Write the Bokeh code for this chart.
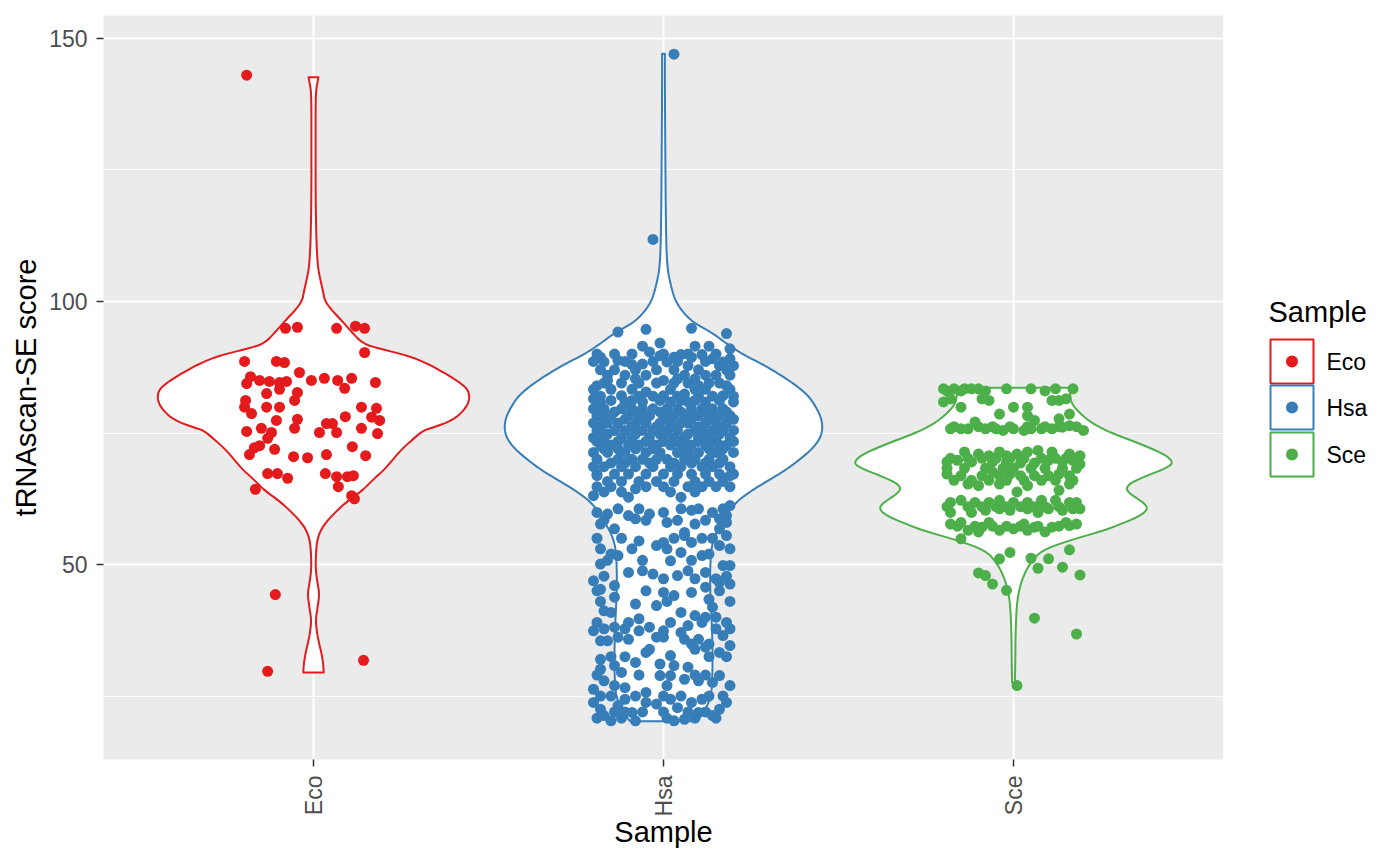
import math
from bokeh.plotting import figure
from bokeh.layouts import row
from bokeh.models import Range1d, FixedTicker
from bokeh.core.properties import value
from bokeh.embed import file_html
from bokeh.resources import INLINE

FONT = "Liberation Sans"
samples = ["Eco", "Hsa", "Sce"]
colors = ["#E41A1C", "#377EB8", "#4DAF4A"]
y_ticks = [50, 100, 150]
y_minor = [25, 75, 125]

# violin outlines: (score, half width in category units), top to bottom
eco_violin = [(142.6, 0.014), (141.8, 0.012), (140.5, 0.008), (138, 0.006), (130, 0.006), (120, 0.006),
              (112, 0.008), (108, 0.011), (106, 0.014), (104, 0.02), (102, 0.027), (100.2, 0.032),
              (98.5, 0.05), (96.4, 0.08), (94.5, 0.105), (92.0, 0.14), (91.0, 0.19), (89.7, 0.27),
              (88.2, 0.326), (86.0, 0.385), (84.5, 0.42), (83.1, 0.443), (81.2, 0.446), (79.3, 0.43),
              (77.4, 0.397), (76.0, 0.34), (75.5, 0.314), (73.6, 0.28), (71.7, 0.249), (69.8, 0.225),
              (67.9, 0.2), (66.0, 0.168), (64.1, 0.14), (62.2, 0.1), (60.3, 0.068), (58.4, 0.04),
              (56.5, 0.02), (54.5, 0.01), (52.0, 0.007), (49.4, 0.006), (47.0, 0.01), (44.5, 0.017),
              (42.0, 0.012), (39.4, 0.006), (37.0, 0.01), (35.0, 0.016), (33.1, 0.023), (31.0, 0.028),
              (29.5, 0.029)]
hsa_violin = [(147.1, 0.004), (140, 0.004), (130, 0.005), (120, 0.006), (110, 0.008), (106, 0.012),
              (104, 0.018), (102, 0.025), (100, 0.035), (98, 0.055), (96, 0.085), (94, 0.14),
              (92, 0.18), (90, 0.225), (88, 0.285), (86, 0.335), (84, 0.38), (82, 0.415), (80, 0.435),
              (78, 0.45), (76, 0.455), (74, 0.448), (72, 0.425), (70, 0.39), (68, 0.35), (66, 0.3),
              (64, 0.25), (62, 0.21), (60, 0.185), (58, 0.168), (56, 0.15), (54, 0.14), (52, 0.135),
              (48, 0.133), (44, 0.134), (40, 0.137), (35, 0.14), (30, 0.14), (26, 0.138), (24, 0.13),
              (22.5, 0.12), (21, 0.105), (20.2, 0.095)]
sce_violin = [(83.6, 0.16), (82.0, 0.162), (80.6, 0.166), (78.7, 0.19), (76.8, 0.226), (74.9, 0.283),
              (73.0, 0.36), (71.1, 0.426), (70.2, 0.446), (69.2, 0.455), (68.3, 0.435), (67.3, 0.397),
              (66.3, 0.36), (65.4, 0.333), (64.5, 0.322), (63.6, 0.33), (62.7, 0.35), (61.7, 0.372),
              (60.8, 0.383), (59.9, 0.375), (58.9, 0.35), (57.8, 0.31), (56.5, 0.26), (54.6, 0.16),
              (52.7, 0.08), (50.2, 0.046), (47.0, 0.023), (43.2, 0.01), (37.5, 0.006), (30.8, 0.005),
              (27.6, 0.004)]

# jittered points: (score, horizontal jitter in category units)
eco_points = [(94.9, -0.08), (95.1, -0.046), (94.9, 0.066), (95.3, 0.12), (94.9, 0.146), (90.3, 0.146),
              (88.6, -0.197), (88.6, -0.106), (88.4, -0.083), (86.5, -0.04), (85.7, -0.18), (84.4, -0.191),
              (85.0, -0.154), (84.8, -0.126), (84.6, -0.097), (84.8, -0.077), (85.0, -0.006), (85.4, 0.031),
              (85.0, 0.069), (85.4, 0.109), (83.5, 0.089), (84.6, 0.177), (83.3, -0.097), (82.5, -0.134),
              (82.7, -0.046), (81.2, -0.054), (81.2, -0.194), (79.9, -0.197), (78.7, -0.177), (79.9, -0.134),
              (79.9, -0.097), (77.4, -0.106), (77.6, -0.046), (75.9, -0.054), (75.3, -0.191), (75.9, -0.149),
              (75.1, -0.12), (74.0, -0.131), (72.6, -0.154), (72.2, -0.169), (70.9, -0.183), (71.9, -0.111),
              (70.5, -0.057), (70.3, -0.017), (70.9, 0.037), (75.1, 0.017), (76.8, 0.037), (76.8, 0.054),
              (75.1, 0.066), (78.1, 0.091), (79.9, 0.137), (79.7, 0.18), (78.0, 0.166), (77.4, 0.189),
              (75.9, 0.137), (74.9, 0.183), (72.4, 0.111), (70.7, 0.149), (67.3, -0.131), (67.3, -0.103),
              (66.4, -0.074), (67.3, 0.034), (66.7, 0.066), (66.7, 0.097), (66.9, 0.114), (64.8, 0.071),
              (64.3, -0.166), (63.1, 0.109), (62.5, 0.117), (143.0, -0.191), (44.3, -0.109), (29.7, -0.131),
              (31.8, 0.143)]

hsa_points = [(147.0, 0.03), (111.8, -0.03),
              (94.2, -0.13), (94.7, -0.05), (94.9, 0.08), (93.9, 0.18), (92.1, -0.01), (91.0, 0.19),
              (89.1, 0.19), (89.4, -0.18), (89.4, 0.03), (89.4, 0.08), (88.8, -0.13), (88.0, -0.09),
              (90.4, -0.04), (89.7, -0.01), (89.9, 0.05), (89.9, 0.11), (89.1, 0.14), (88.5, 0.17),
              (88.5, -0.17), (87.8, 0.20), (87.8, 0.07), (87.8, 0.16), (88.1, -0.06), (88.5, 0.01),
              (85.3, -0.08), (85.3, 0.04), (85.3, 0.09), (85.0, -0.16), (85.0, 0.00), (84.0, -0.19),
              (84.0, 0.10), (84.0, 0.18), (82.8, -0.05), (82.1, -0.12), (82.1, 0.00), (82.1, 0.17),
              (82.4, 0.06), (81.5, -0.20), (80.9, 0.20), (80.9, -0.18), (80.9, -0.11), (80.9, -0.06),
              (80.9, 0.02), (80.9, 0.07), (80.9, 0.12),
              (91.5, -0.06), (91.5, 0.09), (91.5, 0.13),
              (90.0, -0.19), (90.0, -0.14), (90.0, -0.09), (90.0, 0.00), (90.0, 0.07), (90.0, 0.15),
              (88.6, -0.20), (88.6, -0.11), (88.6, -0.03), (88.6, 0.04), (88.6, 0.12),
              (87.0, -0.18), (87.0, -0.14), (87.0, -0.08), (87.0, -0.02), (87.0, 0.03), (87.0, 0.10), (87.0, 0.18),
              (86.0, -0.16), (86.0, -0.11), (86.0, -0.05), (86.0, 0.06), (86.0, 0.12), (86.0, 0.15), (86.0, 0.19),
              (84.5, -0.17), (84.5, -0.12), (84.5, -0.07), (84.5, -0.02), (84.5, 0.03), (84.5, 0.07),
              (84.5, 0.13), (84.5, 0.16),
              (83.3, -0.20), (83.3, -0.15), (83.3, -0.09), (83.3, 0.02), (83.3, 0.09), (83.3, 0.12), (83.3, 0.19),
              (82.0, -0.18), (82.0, -0.07), (82.0, -0.03), (82.0, 0.04), (82.0, 0.10), (82.0, 0.14), (82.0, 0.20),
              (81.2, -0.15), (81.2, -0.09), (81.2, -0.01), (81.2, 0.05), (81.2, 0.09), (81.2, 0.16),
              (79.6, -0.20), (79.6, -0.17), (79.6, -0.12), (79.6, -0.09), (79.6, -0.06), (79.6, -0.03),
              (79.6, 0.01), (79.6, 0.04), (79.6, 0.08), (79.6, 0.11), (79.6, 0.14), (79.6, 0.17),
              (79.0, -0.18), (79.0, -0.14), (79.0, -0.07), (79.0, -0.01), (79.0, 0.05), (79.0, 0.12), (79.0, 0.18),
              (78.3, -0.19), (78.3, -0.15), (78.3, -0.10), (78.3, -0.07), (78.3, -0.04), (78.3, 0.00),
              (78.3, 0.03), (78.3, 0.06), (78.3, 0.10), (78.3, 0.13), (78.3, 0.16), (78.3, 0.19),
              (77.6, -0.17), (77.6, -0.11), (77.6, -0.06), (77.6, 0.01), (77.6, 0.08), (77.6, 0.14), (77.6, 0.20),
              (76.9, -0.20), (76.9, -0.16), (76.9, -0.13), (76.9, -0.08), (76.9, -0.05), (76.9, -0.01),
              (76.9, 0.02), (76.9, 0.05), (76.9, 0.07), (76.9, 0.12), (76.9, 0.15), (76.9, 0.18),
              (76.2, -0.18), (76.2, -0.09), (76.2, -0.02), (76.2, 0.03), (76.2, 0.10), (76.2, 0.16),
              (75.5, -0.19), (75.5, -0.14), (75.5, -0.11), (75.5, -0.06), (75.5, -0.03), (75.5, 0.01),
              (75.5, 0.04), (75.5, 0.09), (75.5, 0.11), (75.5, 0.14), (75.5, 0.17), (75.5, 0.20),
              (74.8, -0.16), (74.8, -0.08), (74.8, -0.01), (74.8, 0.07), (74.8, 0.12), (74.8, 0.16),
              (74.1, -0.20), (74.1, -0.17), (74.1, -0.12), (74.1, -0.09), (74.1, -0.04), (74.1, 0.00),
              (74.1, 0.03), (74.1, 0.06), (74.1, 0.10), (74.1, 0.13), (74.1, 0.19),
              (73.4, -0.19), (73.4, -0.13), (73.4, -0.05), (73.4, 0.00), (73.4, 0.04), (73.4, 0.10),
              (73.4, 0.15), (73.4, 0.20),
              (72.7, -0.18), (72.7, -0.15), (72.7, -0.10), (72.7, -0.07), (72.7, -0.02), (72.7, 0.02),
              (72.7, 0.05), (72.7, 0.08), (72.7, 0.12), (72.7, 0.16), (72.7, 0.18),
              (72.0, -0.17), (72.0, -0.13), (72.0, -0.08), (72.0, -0.03), (72.0, 0.06), (72.0, 0.13), (72.0, 0.17),
              (71.3, -0.20), (71.3, -0.16), (71.3, -0.11), (71.3, -0.05), (71.3, -0.01), (71.3, 0.04),
              (71.3, 0.07), (71.3, 0.10), (71.3, 0.15), (71.3, 0.20),
              (70.0, -0.19), (70.0, -0.13), (70.0, -0.09), (70.0, -0.06), (70.0, -0.02), (70.0, 0.01),
              (70.0, 0.06), (70.0, 0.09), (70.0, 0.13), (70.0, 0.17),
              (69.3, -0.15), (69.3, -0.11), (69.3, -0.04), (69.3, 0.03), (69.3, 0.08), (69.3, 0.12), (69.3, 0.16),
              (68.6, -0.20), (68.6, -0.17), (68.6, -0.12), (68.6, -0.08), (68.6, -0.03), (68.6, 0.02),
              (68.6, 0.05), (68.6, 0.11), (68.6, 0.14), (68.6, 0.19),
              (67.2, -0.19), (67.2, -0.14), (67.2, -0.10), (67.2, -0.05), (67.2, 0.00), (67.2, 0.04),
              (67.2, 0.08), (67.2, 0.12), (67.2, 0.16), (67.2, 0.20),
              (65.8, -0.16), (65.8, -0.12), (65.8, -0.07), (65.8, -0.02), (65.8, 0.03), (65.8, 0.09),
              (65.8, 0.13), (65.8, 0.17),
              (64.8, -0.19), (64.8, -0.15), (64.8, -0.05), (64.8, 0.00), (64.8, 0.07), (64.8, 0.11),
              (64.8, 0.15), (64.8, 0.19), (63.8, -0.17), (63.8, -0.12), (63.8, 0.02), (63.8, 0.09),
              (66.9, -0.19), (63.1, -0.20), (64.4, -0.08), (62.8, -0.10), (62.8, 0.05), (66.9, 0.19),
              (66.3, 0.17), (59.9, -0.19), (59.6, -0.16), (60.6, -0.13), (59.3, -0.10), (60.6, -0.07),
              (59.6, -0.04), (59.9, 0.00), (60.6, 0.05), (60.3, 0.08), (60.6, 0.10), (59.9, 0.14),
              (60.6, 0.17), (61.2, 0.19), (58.7, 0.16), (59.3, 0.18), (57.7, -0.18), (56.8, -0.14),
              (58.7, -0.08), (58.0, 0.01), (56.1, 0.06), (57.7, 0.09), (56.8, 0.16), (58.0, 0.18),
              (58.4, -0.17), (58.4, -0.05), (58.4, 0.04), (58.4, 0.12),
              (54.5, -0.07), (53.6, -0.02), (54.2, 0.00), (55.5, 0.06), (54.2, 0.08), (53.6, 0.16),
              (55.5, 0.18), (55.0, -0.19), (55.0, -0.12), (55.0, 0.03), (55.0, 0.11), (55.0, 0.14),
              (53.0, -0.18), (53.0, -0.09), (53.0, 0.01), (53.0, 0.19),
              (52.0, -0.15), (51.7, -0.13), (50.7, 0.02), (52.3, 0.05), (51.7, 0.11),
              (52.0, 0.13), (50.1, -0.18), (49.8, 0.17), (49.8, 0.19), (50.8, -0.16), (50.8, -0.06), (50.8, 0.08),
              (46.9, -0.20), (45.3, -0.18),
              (46.0, -0.14), (48.5, -0.10), (48.8, -0.06), (48.2, -0.03), (47.3, 0.00), (47.9, 0.04),
              (48.8, 0.07), (47.3, 0.09), (48.5, 0.12), (47.3, 0.15), (46.6, 0.16), (46.3, 0.19),
              (47.8, -0.17), (47.8, 0.18), (45.0, -0.19), (45.0, -0.05), (45.0, 0.16),
              (44.7, 0.00), (44.1, 0.03), (44.7, 0.08), (45.7, 0.12), (43.8, -0.14), (42.5, -0.08),
              (42.2, -0.02), (40.9, 0.05), (43.4, 0.13), (41.9, 0.14), (41.2, -0.17), (40.9, -0.15),
              (43.0, -0.18), (43.0, 0.01), (43.0, 0.19),
              (39.7, -0.07), (40.3, 0.09), (40.0, 0.12), (40.0, 0.15), (37.4, -0.20), (37.8, -0.17),
              (39.0, -0.19), (39.0, -0.10), (39.0, 0.02), (39.0, 0.11), (39.0, 0.18),
              (38.1, -0.14), (37.8, -0.11), (37.4, -0.07), (38.1, -0.04), (37.4, 0.00), (37.1, 0.05),
              (38.4, 0.07), (37.8, 0.15), (37.8, 0.19), (35.5, -0.18), (35.5, -0.16), (36.2, -0.13),
              (36.2, -0.02), (36.2, 0.00), (34.9, 0.08), (34.9, 0.13), (36.5, 0.17), (34.6, 0.19),
              (35.8, -0.10), (35.8, 0.06), (35.8, 0.10),
              (32.0, -0.18), (30.1, -0.18), (30.8, -0.14), (29.5, -0.12), (31.4, -0.08), (33.3, -0.05),
              (33.9, -0.04), (31.1, -0.01), (32.7, 0.02), (30.8, 0.03), (30.5, 0.07), (33.9, 0.09),
              (34.3, 0.12), (33.3, 0.16), (32.5, -0.15), (32.5, -0.11), (32.5, 0.13), (32.5, 0.18),
              (29.0, -0.19), (29.0, -0.07), (29.0, 0.09), (29.0, 0.12),
              (27.9, -0.17), (26.3, -0.20), (27.0, -0.14), (26.6, -0.11),
              (25.7, -0.05), (28.9, -0.01), (27.0, 0.01), (28.9, 0.02), (28.2, 0.06), (27.9, 0.10),
              (27.6, 0.14), (28.9, 0.16), (27.0, 0.19),
              (25.0, -0.18), (25.0, -0.15), (25.0, -0.08), (25.0, 0.00), (25.0, 0.05), (25.0, 0.13), (25.0, 0.17),
              (23.8, -0.20), (22.5, -0.18), (21.3, -0.17),
              (23.2, -0.13), (24.4, -0.11), (21.9, -0.09), (23.8, -0.05), (23.5, -0.02), (24.4, 0.02),
              (22.8, 0.04), (23.8, 0.08), (24.4, 0.11), (21.3, 0.14), (22.5, 0.16), (23.8, 0.18),
              (22.0, -0.14), (22.0, -0.11), (22.0, -0.06), (22.0, 0.00), (22.0, 0.07), (22.0, 0.12),
              (20.8, -0.19), (20.8, -0.12), (20.8, 0.01), (20.8, 0.09), (20.8, 0.15),
              (20.3, -0.15), (20.3, -0.08), (20.3, 0.03), (20.6, 0.06), (21.9, 0.10)]

sce_points = [(83.4, -0.20), (83.4, -0.17), (83.4, -0.14), (83.4, -0.12), (83.4, -0.10), (83.4, -0.02),
              (83.4, 0.05), (83.4, 0.12), (83.4, 0.17), (83.0, -0.19), (83.0, -0.15), (83.0, -0.08), (83.0, 0.09),
              (80.9, -0.20), (81.5, -0.18), (79.9, -0.15),
              (81.5, -0.09), (81.2, -0.07), (79.9, 0.00), (79.9, 0.04), (78.3, 0.04), (81.2, 0.11),
              (81.2, 0.13), (81.5, 0.15), (78.6, -0.04), (77.4, 0.06), (77.7, 0.13), (78.6, 0.16),
              (75.8, -0.18), (75.8, -0.15), (77.1, -0.11), (75.8, -0.13), (75.8, -0.08), (75.8, -0.05),
              (75.5, -0.03), (75.8, 0.00), (75.5, 0.03), (75.8, 0.05), (75.8, 0.08), (75.8, 0.11),
              (76.1, 0.14), (76.4, 0.16), (75.5, 0.20),
              (76.2, -0.17), (76.2, -0.10), (76.2, -0.06), (76.2, -0.01), (76.2, 0.04), (76.2, 0.09),
              (76.2, 0.13), (76.2, 0.18),
              (69.5, -0.19), (71.4, -0.14), (71.0, -0.10), (70.7, -0.07), (71.4, -0.04), (70.7, -0.02),
              (71.0, 0.01), (71.4, 0.04), (71.7, 0.07), (71.4, 0.11), (71.0, 0.16), (70.7, 0.19),
              (70.2, -0.18), (70.2, -0.13), (70.2, -0.09), (70.2, -0.05), (70.2, -0.01), (70.2, 0.03),
              (70.2, 0.08), (70.2, 0.12), (70.2, 0.15), (70.2, 0.18),
              (69.8, -0.16), (69.5, -0.12), (69.5, -0.06), (69.5, -0.02), (69.3, 0.02), (69.3, 0.06),
              (69.8, 0.10), (69.5, 0.14), (69.8, 0.17), (69.1, 0.19),
              (68.3, -0.19), (68.3, -0.14), (68.3, -0.08), (68.3, -0.03), (68.3, 0.00), (68.3, 0.05),
              (68.3, 0.09), (68.3, 0.14), (68.3, 0.18),
              (67.2, -0.19), (66.9, -0.15), (65.3, -0.13), (66.9, -0.09), (67.6, -0.06), (66.9, -0.04),
              (67.2, -0.01), (66.9, 0.02), (66.9, 0.06), (66.9, 0.10), (67.2, 0.13), (66.9, 0.16),
              (66.0, -0.17), (66.0, -0.12), (66.0, -0.07), (66.0, -0.02), (66.0, 0.03), (66.0, 0.08),
              (66.0, 0.12), (66.0, 0.17),
              (65.3, -0.04), (65.0, 0.04), (65.3, 0.16), (65.0, -0.10), (63.8, 0.01), (64.1, 0.13),
              (61.8, -0.18), (62.2, -0.15), (61.8, -0.11), (61.8, -0.07), (62.2, -0.04), (61.8, 0.00),
              (61.8, 0.04), (62.2, 0.08), (62.2, 0.12), (61.8, 0.16), (61.8, 0.18),
              (61.0, -0.19), (61.0, -0.13), (61.0, -0.09), (61.0, -0.05), (61.0, -0.02), (61.0, 0.02),
              (61.0, 0.06), (61.0, 0.09), (61.0, 0.13), (61.0, 0.17),
              (59.9, -0.18), (59.9, -0.12), (60.3, -0.08), (60.6, -0.04), (60.3, -0.01), (60.6, 0.04),
              (59.9, 0.07), (60.6, 0.10), (60.3, 0.14), (60.6, 0.17), (60.6, 0.19),
              (57.7, -0.18), (58.0, -0.15), (56.5, -0.13), (57.1, -0.09), (58.0, -0.07), (56.5, -0.04),
              (56.8, 0.00), (57.7, 0.03), (57.1, 0.06), (56.2, 0.09), (57.1, 0.11), (58.0, 0.15),
              (57.4, 0.16), (57.7, 0.18), (56.2, -0.10), (56.5, 0.04), (54.9, -0.15),
              (57.3, -0.16), (57.3, -0.11), (57.3, -0.06), (57.3, -0.02), (57.3, 0.02), (57.3, 0.07), (57.3, 0.13),
              (52.3, -0.01), (51.1, -0.04), (51.2, 0.05), (51.1, 0.10), (49.3, 0.07), (49.5, 0.14),
              (52.8, 0.16), (48.0, 0.19), (48.4, -0.10), (47.9, -0.08), (46.3, -0.06), (45.1, -0.02),
              (39.8, 0.06), (36.8, 0.18), (27.0, 0.01)]

violins = [eco_violin, hsa_violin, sce_violin]
point_sets = [eco_points, hsa_points, sce_points]


def smooth_outline(prof, rounds=2):
    # corner cutting of the outline for a smoother drawn curve; ends are kept
    pts = list(prof)
    for _ in range(rounds):
        out = [pts[0]]
        for a, b in zip(pts[:-1], pts[1:]):
            out.append((0.75 * a[0] + 0.25 * b[0], 0.75 * a[1] + 0.25 * b[1]))
            out.append((0.25 * a[0] + 0.75 * b[0], 0.25 * a[1] + 0.75 * b[1]))
        out.append(pts[-1])
        pts = out
    return pts


p = figure(frame_width=1120, frame_height=744, x_range=Range1d(0.4, 3.6), y_range=Range1d(12.95, 154.35),
           output_backend="svg", toolbar_location=None, min_border_left=103, min_border_right=0,
           min_border_top=15, min_border_bottom=98)
p.background_fill_color = "#EBEBEB"
p.border_fill_color = "white"
p.outline_line_color = None

for i, (prof, col) in enumerate(zip(violins, colors)):
    c = i + 1
    sm = smooth_outline(prof)
    ys = [s for s, w in sm]
    ws = [w for s, w in sm]
    xs = [c + w for w in ws] + [c - w for w in reversed(ws)]
    yy = ys + list(reversed(ys))
    p.patch(xs, yy, fill_color="white", line_color=col, line_width=2, line_join="round")

for i, (pts, col) in enumerate(zip(point_sets, colors)):
    c = i + 1
    p.scatter([c + j for s, j in pts], [s for s, j in pts], size=11, fill_color=col, line_color=None)

p.xaxis.ticker = FixedTicker(ticks=[1, 2, 3])
p.xaxis.major_label_overrides = {1: samples[0], 2: samples[1], 3: samples[2]}
p.xaxis.major_label_orientation = math.pi / 2
p.yaxis.ticker = FixedTicker(ticks=y_ticks, minor_ticks=y_minor)
p.xgrid.ticker = FixedTicker(ticks=[1, 2, 3])
for g in (p.xgrid, p.ygrid):
    g.grid_line_color = "white"
    g.grid_line_width = 2
p.ygrid.minor_grid_line_color = "white"
p.ygrid.minor_grid_line_width = 1

for ax in (p.xaxis, p.yaxis):
    ax.axis_line_color = None
    ax.major_tick_line_color = "#333333"
    ax.major_tick_line_width = 1.5
    ax.major_tick_out = 7
    ax.major_tick_in = 0
    ax.minor_tick_line_color = None
    ax.major_label_text_font = FONT
    ax.major_label_text_font_size = "23px"
    ax.major_label_text_color = "#4D4D4D"
    ax.axis_label_text_font = FONT
    ax.axis_label_text_font_size = "29px"
    ax.axis_label_text_font_style = "normal"
    ax.axis_label_text_color = "black"
p.xaxis.major_label_standoff = 9
p.yaxis.major_label_standoff = 9
p.xaxis.axis_label = "Sample"
p.yaxis.axis_label = "tRNAscan-SE score"
p.xaxis.axis_label_standoff = -3
p.yaxis.axis_label_standoff = 4

# legend panel (its frame is aligned with the main panel's top)
leg = figure(frame_width=169, frame_height=849, x_range=Range1d(0, 169), y_range=Range1d(849, 0),
             output_backend="svg", toolbar_location=None, min_border=0)
leg.axis.visible = False
leg.grid.visible = False
leg.outline_line_color = None
leg.background_fill_color = "white"
leg.border_fill_color = "white"
key_y = [346, 392, 439]
leg.rect(x=[68.5] * 3, y=key_y, width=43, height=44, fill_color="white", line_color=colors, line_width=2)
leg.scatter(x=[68.5] * 3, y=key_y, size=12, fill_color=colors, line_color=None)
leg.text(x=[45], y=[296], text=["Sample"], text_font=value(FONT), text_font_size=value("29px"),
         text_baseline="middle", text_align="left", text_color="black")
leg.text(x=[103] * 3, y=key_y, text=samples, text_font=value(FONT), text_font_size=value("23px"),
         text_baseline="middle", text_align="left", text_color="black")

layout = row(p, leg)
open("out.html", "w").write(file_html(layout, INLINE))
